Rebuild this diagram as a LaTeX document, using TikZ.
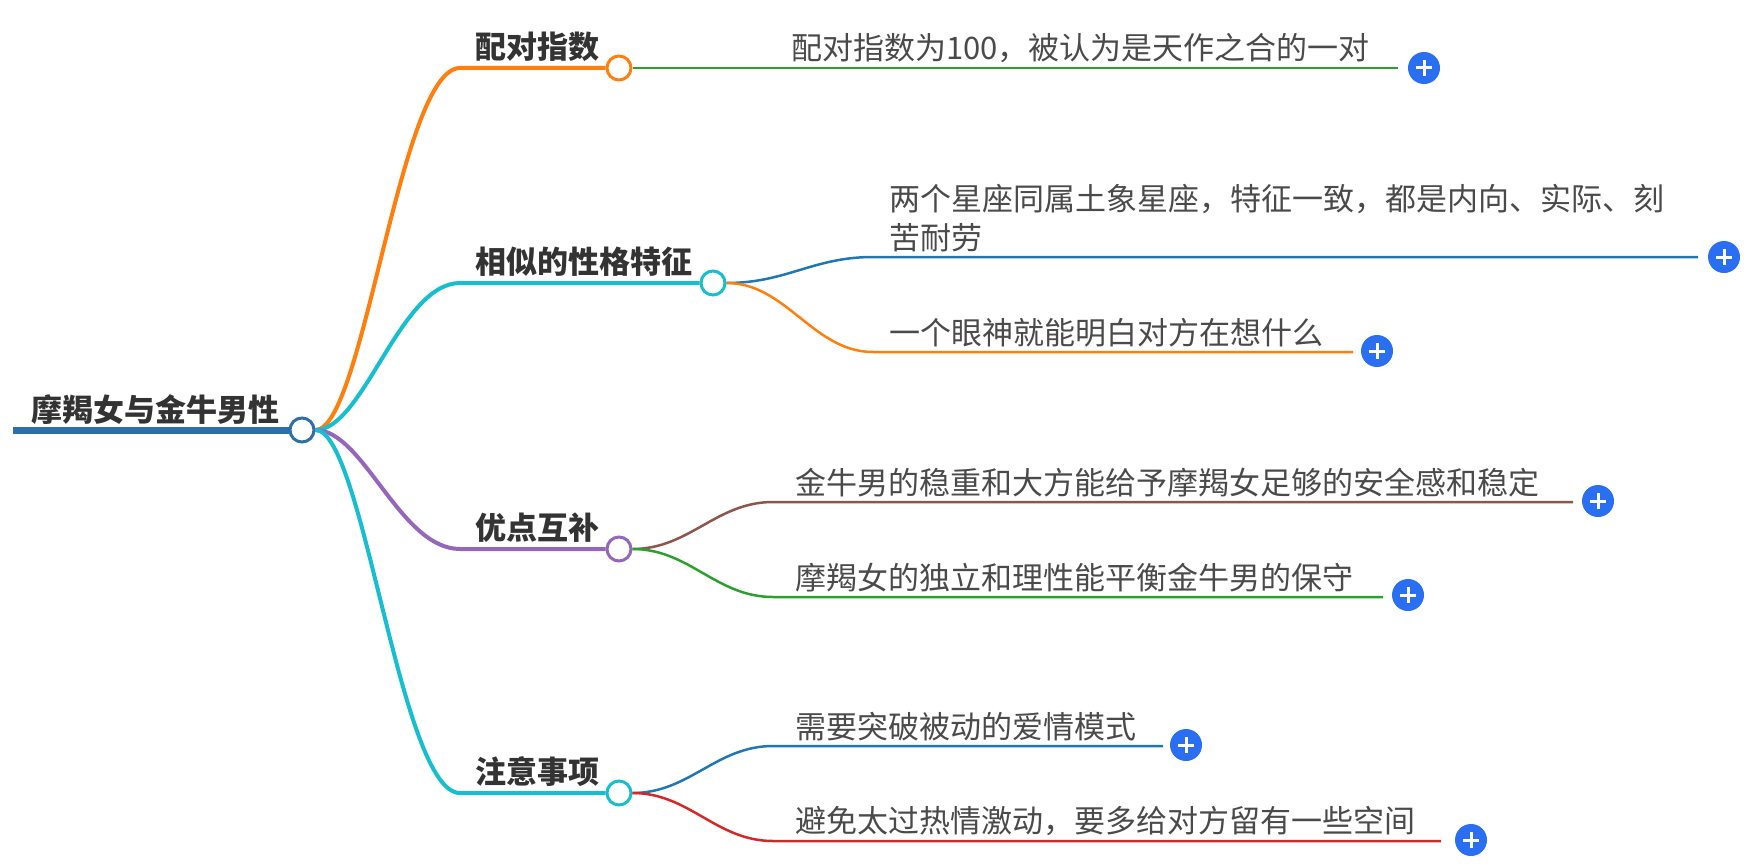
\documentclass[tikz,border=0pt]{standalone}
\usepackage{fontspec}
\setmainfont{Noto Sans CJK SC}
\begin{document}
\begin{tikzpicture}[x=1pt, y=-1pt,
  knot/.style={circle, draw, line width=3pt, fill=white, minimum size=24pt, inner sep=0pt},
  branchtext/.style={anchor=south west, inner sep=0pt, font=\fontsize{31}{39}\selectfont\bfseries, text=ink},
  leaftext/.style={anchor=south west, inner sep=0pt, align=left, font=\fontsize{31}{39}\selectfont, text=leafink},
  addbtn/.style={circle, fill=btnblue, minimum size=32pt, inner sep=0pt,
    path picture={\draw[white, line width=3pt] (path picture bounding box.center) +(-8,0) -- +(8,0)
      (path picture bounding box.center) +(0,-8) -- +(0,8);}},
  bough/.style={line width=4pt},
  twig/.style={line width=2.5pt}]
  % Mind map of one root and four branches
  \definecolor{ink}{HTML}{333333}
  \definecolor{leafink}{HTML}{4A4A4A}
  \definecolor{rootblue}{HTML}{2D6FA6}
  \definecolor{btnblue}{HTML}{2A6EF2}
  \definecolor{morange}{HTML}{FF7F0E}
  \definecolor{mcyan}{HTML}{17BECF}
  \definecolor{mpurple}{HTML}{9467BD}
  \definecolor{mgreen}{HTML}{2CA02C}
  \definecolor{mblue}{HTML}{1F77B4}
  \definecolor{mbrown}{HTML}{8C564B}
  \definecolor{mred}{HTML}{D62728}
  \useasboundingbox (0,0) rectangle (1758,867);

  % root
  \coordinate (rootstart) at (13,430);
  \node[knot, draw=rootblue] (rootc) at (302,430) {};
  \node[branchtext] (root) at (31,425) {摩羯女与金牛男性};
  \draw[rootblue, line width=7pt] (rootstart) -- (rootc.west);

  % branches
  \node[knot, draw=morange] (b1c) at (619,68) {};
  \node[knot, draw=mcyan] (b2c) at (713,283) {};
  \node[knot, draw=mpurple] (b3c) at (619,549) {};
  \node[knot, draw=mcyan] (b4c) at (619,793) {};
  \node[branchtext] (b1) at (475,62) {配对指数};
  \node[branchtext] (b2) at (475,277) {相似的性格特征};
  \node[branchtext] (b3) at (475,543) {优点互补};
  \node[branchtext] (b4) at (475,787) {注意事项};
  \coordinate (b1k) at (460,68);
  \coordinate (b2k) at (460,283);
  \coordinate (b3k) at (460,549);
  \coordinate (b4k) at (460,793);
  \draw[bough, morange] (rootc.east) .. controls +(48,0) and +(-60,0) .. (b1k) -- (b1c.west);
  \draw[bough, mcyan] (rootc.east) .. controls +(48,0) and +(-60,0) .. (b2k) -- (b2c.west);
  \draw[bough, mpurple] (rootc.east) .. controls +(48,0) and +(-60,0) .. (b3k) -- (b3c.west);
  \draw[bough, mcyan] (rootc.east) .. controls +(48,0) and +(-60,0) .. (b4k) -- (b4c.west);

  % leaves
  \node[leaftext] (l1) at (791,63) {配对指数为100，被认为是天作之合的一对};
  \node[leaftext] (l2a) at (889,252) {两个星座同属土象星座，特征一致，都是内向、实际、刻\\苦耐劳};
  \node[leaftext] (l2b) at (889,347) {一个眼神就能明白对方在想什么};
  \node[leaftext] (l3a) at (795,497) {金牛男的稳重和大方能给予摩羯女足够的安全感和稳定};
  \node[leaftext] (l3b) at (795,592) {摩羯女的独立和理性能平衡金牛男的保守};
  \node[leaftext] (l4a) at (795,741) {需要突破被动的爱情模式};
  \node[leaftext] (l4b) at (795,836) {避免太过热情激动，要多给对方留有一些空间};

  \coordinate (l1e) at (1398,68);
  \coordinate (l2ak) at (873,257);  \coordinate (l2ae) at (1698,257);
  \coordinate (l2bk) at (873,352);  \coordinate (l2be) at (1353,352);
  \coordinate (l3ak) at (773,502);  \coordinate (l3ae) at (1573,502);
  \coordinate (l3bk) at (773,597);  \coordinate (l3be) at (1383,597);
  \coordinate (l4ak) at (773,746);  \coordinate (l4ae) at (1163,746);
  \coordinate (l4bk) at (773,841);  \coordinate (l4be) at (1441,841);

  \draw[twig, mgreen] (b1c.east) -- (l1e);
  \draw[twig, mblue] (b2c.east) .. controls +(60,0) and +(-60,0) .. (l2ak) -- (l2ae);
  \draw[twig, morange] (b2c.east) .. controls +(60,0) and +(-60,0) .. (l2bk) -- (l2be);
  \draw[twig, mbrown] (b3c.east) .. controls +(57,0) and +(-57,0) .. (l3ak) -- (l3ae);
  \draw[twig, mgreen] (b3c.east) .. controls +(57,0) and +(-57,0) .. (l3bk) -- (l3be);
  \draw[twig, mblue] (b4c.east) .. controls +(57,0) and +(-57,0) .. (l4ak) -- (l4ae);
  \draw[twig, mred] (b4c.east) .. controls +(57,0) and +(-57,0) .. (l4bk) -- (l4be);

  % add buttons
  \node[addbtn] (p1) at (1424,68) {};
  \node[addbtn] (p2a) at (1724,257) {};
  \node[addbtn] (p2b) at (1377,351) {};
  \node[addbtn] (p3a) at (1598,501) {};
  \node[addbtn] (p3b) at (1408,595) {};
  \node[addbtn] (p4a) at (1186,745) {};
  \node[addbtn] (p4b) at (1471,840) {};
\end{tikzpicture}
\end{document}
